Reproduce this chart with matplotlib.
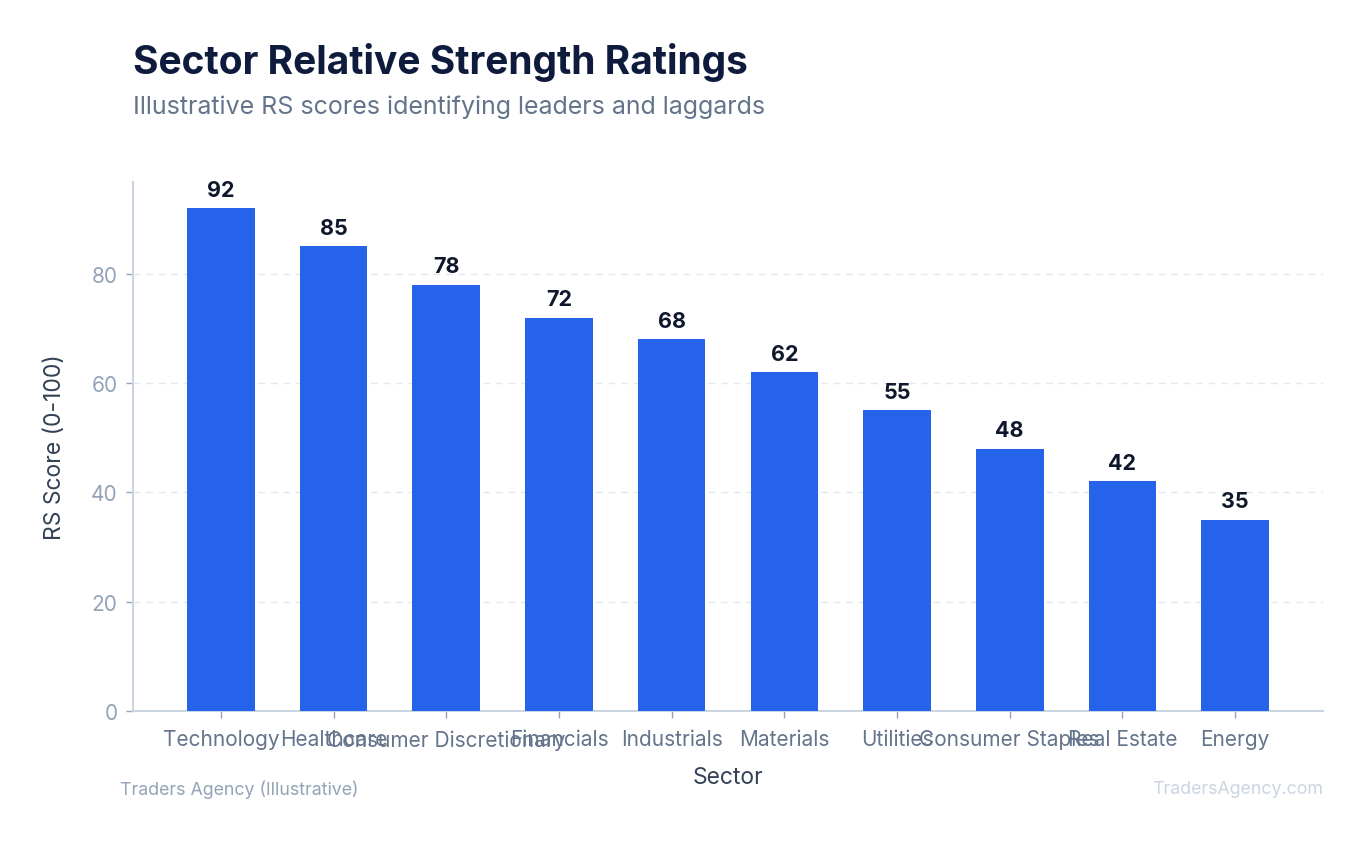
import matplotlib.pyplot as plt

sectors = ["Technology", "Healthcare", "Consumer Discretionary", "Financials",
           "Industrials", "Materials", "Utilities", "Consumer Staples",
           "Real Estate", "Energy"]
rs_scores = [92, 85, 78, 72, 68, 62, 55, 48, 42, 35]
y_ticks = [0, 20, 40, 60, 80]

plt.rcParams['font.family'] = ['Inter', 'DejaVu Sans']

fig = plt.figure(figsize=(13.68, 8.45), dpi=100)
ax = fig.add_axes([133 / 1368, 133 / 845, 1190 / 1368, 529 / 845])

x = list(range(len(sectors)))
bars = ax.bar(x, rs_scores, width=0.6, color="#2563eb", zorder=3)

# value labels on top of bars
for xi, v in zip(x, rs_scores):
    ax.annotate(str(v), (xi, v), xytext=(0, 6), textcoords="offset points",
                ha="center", va="bottom", fontsize=15.5, fontweight="bold",
                color="#0f172a")

ax.set_xlim(-0.78, 9.78)
ax.set_ylim(0, 96.8)
ax.set_xticks(x)
ax.set_xticklabels(sectors, fontsize=15, color="#64748b")
ax.set_yticks(y_ticks)
ax.set_yticklabels([str(t) for t in y_ticks], fontsize=15, color="#94a3b8")
ax.tick_params(axis="both", colors="#94a3b8", length=5, width=1)
ax.tick_params(axis="x", labelcolor="#64748b", pad=8)
ax.tick_params(axis="y", labelcolor="#94a3b8", pad=6)

ax.grid(axis="y", color="#e2e8f0", linestyle=(0, (5, 4)), linewidth=1, zorder=0)
for s in ["top", "right"]:
    ax.spines[s].set_visible(False)
for s in ["left", "bottom"]:
    ax.spines[s].set_color("#cbd5e1")
    ax.spines[s].set_linewidth(1.5)

ax.set_ylabel("RS Score (0-100)", fontsize=16.5, color="#334155", labelpad=18)
ax.set_xlabel("Sector", fontsize=16.5, color="#334155", labelpad=12)

fig.text(133 / 1368, 1 - 63 / 845, "Sector Relative Strength Ratings",
         fontsize=28, fontweight="bold", color="#0f1b3d", va="center", ha="left")
fig.text(133 / 1368, 1 - 107 / 845, "Illustrative RS scores identifying leaders and laggards",
         fontsize=18, color="#64748b", va="center", ha="left")
fig.text(120 / 1368, 1 - 790 / 845, "Traders Agency (Illustrative)",
         fontsize=12.8, color="#94a3b8", va="center", ha="left")
fig.text(1323 / 1368, 1 - 790 / 845, "TradersAgency.com",
         fontsize=12.8, color="#cbd5e1", va="center", ha="right")

fig.savefig("out.png", dpi=100)
